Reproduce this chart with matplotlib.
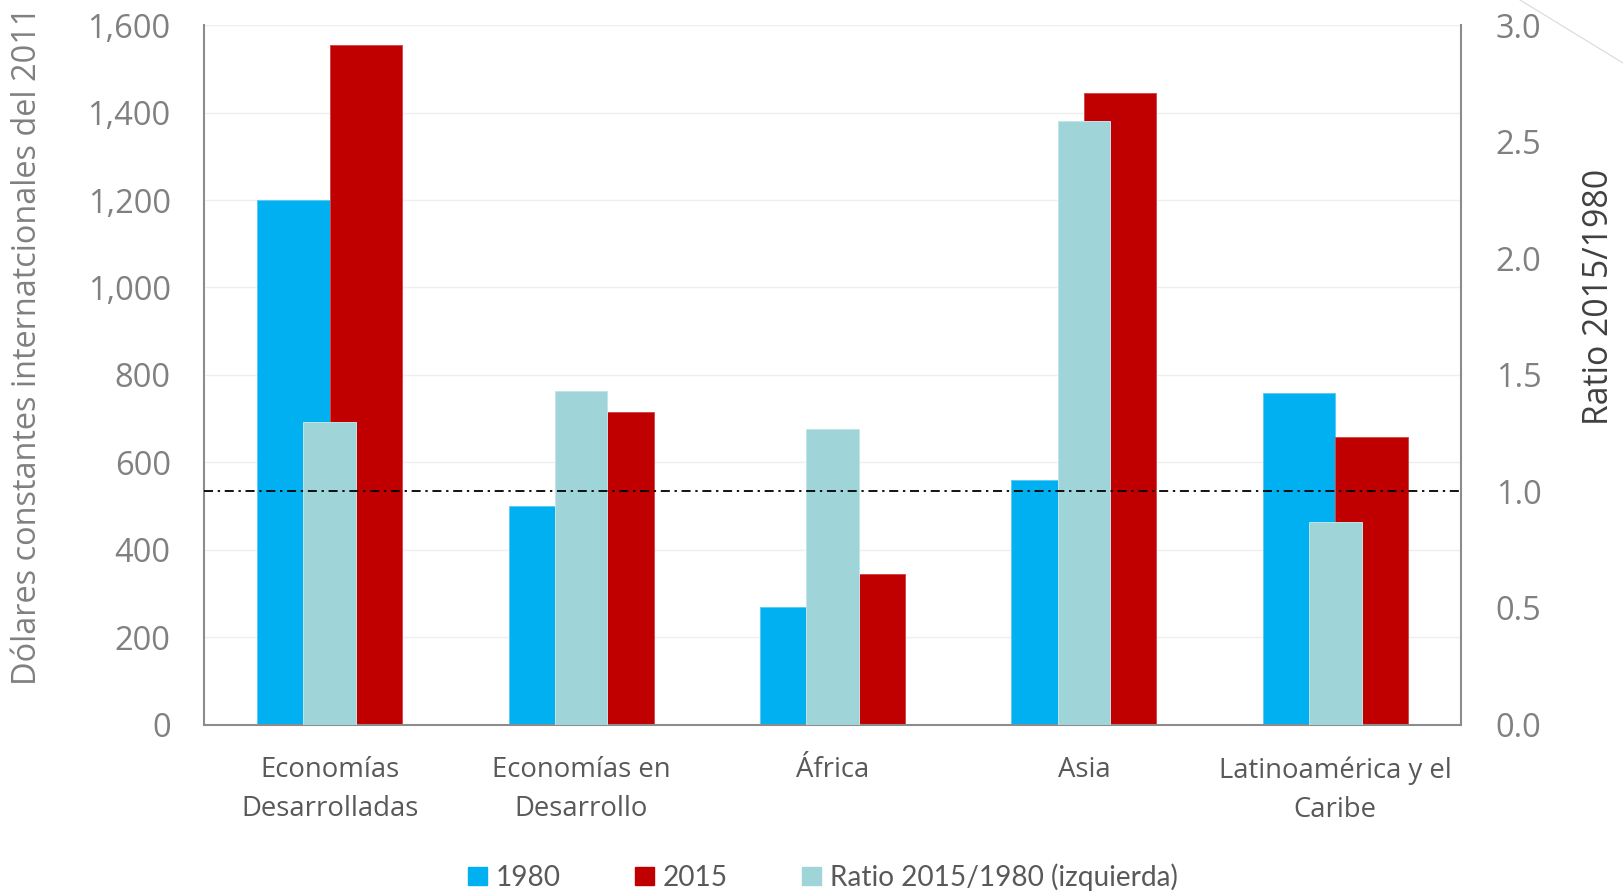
import matplotlib
matplotlib.use("Agg")
import matplotlib.pyplot as plt
import numpy as np
from matplotlib.lines import Line2D

# Data
categories = ["Economías\nDesarrolladas", "Economías en\nDesarrollo", "África", "Asia",
              "Latinoamérica y el\nCaribe"]
values_1980 = [1200, 500, 270, 559, 758]
values_2015 = [1555, 716, 344, 1446, 659]
ratio_2015_1980 = [1.30, 1.43, 1.27, 2.59, 0.87]
left_ticks = [0, 200, 400, 600, 800, 1000, 1200, 1400, 1600]
right_ticks = [0.0, 0.5, 1.0, 1.5, 2.0, 2.5, 3.0]
reference_ratio = 1.0

BLUE = "#00B0F0"
RED = "#C00000"
TEAL = "#9FD4D8"
TICK_GRAY = "#808080"
TEXT_GRAY = "#595959"

TICK_FONT = ["Open Sans", "DejaVu Sans"]
LEGEND_FONT = ["Lato", "DejaVu Sans"]

W, H, DPI = 1623, 893, 100
fig = plt.figure(figsize=(W / DPI, H / DPI), dpi=DPI)

x0, x1 = 204, 1461
y0, y1 = 724.5, 25.3
ax = fig.add_axes([x0 / W, (H - y0) / H, (x1 - x0) / W, (y0 - y1) / H])
ax2 = ax.twinx()

x = np.arange(len(categories))
bw = 0.288
ax.bar(x - bw / 2, values_1980, bw, color=BLUE, edgecolor="#5CCBF4", linewidth=0.7, zorder=2)
ax.bar(x + bw / 2, values_2015, bw, color=RED, edgecolor="#D24B4B", linewidth=0.7, zorder=2)
ax2.bar(x, ratio_2015_1980, 0.21, color=TEAL, edgecolor="#C2E4E7", linewidth=0.7, zorder=2)

# horizontal reference at ratio = 1
ax2.axhline(reference_ratio, color="black", linewidth=1.3,
            dashes=(5.0, 2.6, 1.3, 2.6), zorder=5)

ax.set_xlim(-0.5, len(categories) - 0.5)
ax.set_ylim(0, 1600)
ax2.set_ylim(0, 3.0)

ax.set_yticks(left_ticks)
ax.set_yticklabels([f"{t:,}" for t in left_ticks])
ax2.set_yticks(right_ticks)
ax2.set_yticklabels([f"{t:.1f}" for t in right_ticks])

ax.set_xticks(x)
ax.set_xticklabels(categories, fontsize=19.8, color=TEXT_GRAY, family=TICK_FONT,
                   linespacing=1.52)
ax.tick_params(axis="x", length=0, pad=23)
ax.tick_params(axis="y", length=0, pad=24, labelsize=23.5, labelcolor=TICK_GRAY)
ax2.tick_params(axis="y", length=0, pad=25, labelsize=23.5, labelcolor=TICK_GRAY)
for lab in ax.get_yticklabels() + ax2.get_yticklabels():
    lab.set_family(TICK_FONT)

ax.grid(axis="y", color="#EFEFEF", linewidth=1.0, zorder=0)
ax.set_axisbelow(True)

for a in (ax, ax2):
    for s in a.spines.values():
        s.set_visible(False)
ax.spines["left"].set_visible(True)
ax.spines["bottom"].set_visible(True)
ax2.spines["right"].set_visible(True)
for s in (ax.spines["left"], ax.spines["bottom"], ax2.spines["right"]):
    s.set_color("#8C8C8C")
    s.set_linewidth(1.5)

fig.text(28 / W, 1 - 346 / H, "Dólares constantes internatcionales del 2011",
         rotation=90, ha="center", va="center", fontsize=23.4, color=TICK_GRAY,
         family=TICK_FONT)
fig.text(1599 / W, 1 - 297 / H, "Ratio 2015/1980", rotation=90, ha="center",
         va="center", fontsize=24.3, color="#404040", family=TICK_FONT)

handles = [plt.Rectangle((0, 0), 1, 1, color=c) for c in (BLUE, RED, TEAL)]
leg = fig.legend(handles, ["1980", "2015", "Ratio 2015/1980 (izquierda)"],
                 loc="center", bbox_to_anchor=(823 / W, 1 - 877 / H), ncol=3,
                 frameon=False, prop={"family": LEGEND_FONT, "size": 20.2},
                 handlelength=0.66, handleheight=0.66, handletextpad=0.32,
                 columnspacing=2.65, borderaxespad=0)
for t in leg.get_texts():
    t.set_color(TEXT_GRAY)

# corner of the chart frame
fig.add_artist(Line2D([1520 / W, 1.0], [1.0, 1 - 63 / H], color="#D9D9D9",
                      linewidth=0.8, transform=fig.transFigure))

fig.savefig("out.png", dpi=DPI, facecolor="white")
